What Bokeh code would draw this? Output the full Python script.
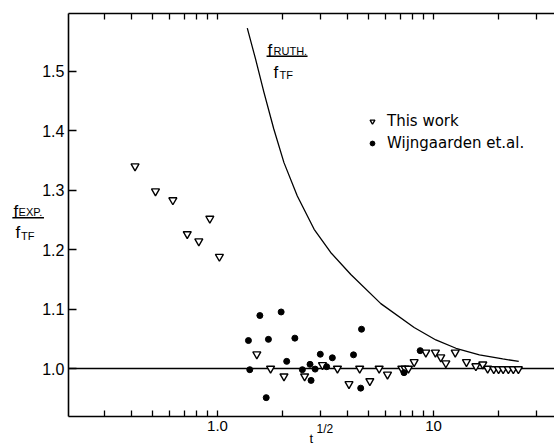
from bokeh.plotting import figure
from bokeh.models import (FixedTicker, Label, Legend, LegendItem, LogAxis, LinearAxis,
                          LogScale, CustomJSTickFormatter, PrintfTickFormatter, Arrow)
from bokeh.embed import file_html
from bokeh.resources import INLINE

# f_EXP / f_TF measured in this work (open triangles)
tw_x = [0.415, 0.516, 0.621, 0.921, 0.724, 0.819, 1.02,
        1.52, 1.76, 2.03, 2.53, 3.06, 3.59, 4.06, 4.55, 5.07, 5.6, 6.12,
        7.13, 7.38, 7.65, 8.13, 9.21, 10.2, 10.8, 11.4, 12.6, 14.2, 15.7, 16.9,
        17.8, 19.0, 20.0, 21.0, 22.2, 23.4, 24.7]
tw_y = [1.340, 1.298, 1.283, 1.252, 1.226, 1.214, 1.188,
        1.024, 1.000, 0.987, 0.987, 1.006, 1.000, 0.974, 1.000, 0.979, 1.000, 0.990,
        1.000, 1.000, 1.000, 1.011, 1.027, 1.027, 1.019, 1.009, 1.027, 1.011, 1.004, 1.007,
        1.000, 0.999, 0.999, 0.999, 0.999, 0.999, 0.999]

# Wijngaarden et al. (filled dots)
wj_x = [1.39, 1.41, 1.57, 1.68, 1.72, 1.97, 2.09, 2.28, 2.47, 2.68,
        2.71, 2.83, 2.99, 3.20, 3.40, 4.26, 4.64, 4.60, 7.30, 8.67]
wj_y = [1.047, 0.998, 1.089, 0.951, 1.049, 1.095, 1.012, 1.051, 0.998, 1.007,
        0.980, 0.999, 1.024, 1.003, 1.018, 1.023, 1.066, 0.967, 0.993, 1.030]

# f_RUTH / f_TF curve
ruth_x = [1.373, 1.50, 1.64, 1.82, 2.03, 2.34, 2.80, 3.34, 4.14, 5.70,
          8.13, 10.25, 12.7, 16.3, 20.9, 24.8]
ruth_y = [1.572, 1.520, 1.464, 1.403, 1.346, 1.290, 1.234, 1.195, 1.158, 1.109,
          1.069, 1.048, 1.034, 1.023, 1.016, 1.012]

x_major = [1, 10]
x_minor = [0.3, 0.4, 0.5, 0.6, 0.7, 0.8, 0.9, 2, 3, 4, 5, 6, 7, 8, 9, 20, 30]
y_ticks = [1.0, 1.1, 1.2, 1.3, 1.4, 1.5]
unity = 1.0

# axis box (data units); the canvas extends a little beyond it for the captions
X_LO, X_HI = 0.204, 36.3
Y_LO, Y_HI = 0.919, 1.597

FONT = "Liberation Sans"

p = figure(width=554, height=445, x_axis_type=None, y_axis_type=None,
           x_range=(0.0989, 36.3), y_range=(0.87059, 1.61849),
           min_border=0, output_backend="svg", toolbar_location=None)
p.x_scale = LogScale()
p.outline_line_color = None
p.background_fill_color = "white"
p.border_fill_color = "white"

ticker = FixedTicker(ticks=x_major, minor_ticks=x_minor)
tick_style = dict(major_tick_in=6, major_tick_out=0, minor_tick_in=6, minor_tick_out=0,
                  axis_line_width=1.6, major_tick_line_width=1.3,
                  minor_tick_line_width=1.3)

bottom = LogAxis(ticker=ticker, fixed_location=Y_LO, bounds=(X_LO, X_HI),
                 formatter=CustomJSTickFormatter(
                     code="return tick == 1 ? '1.0' : tick.toFixed(0);"),
                 major_label_standoff=4, major_label_text_font=FONT,
                 major_label_text_font_size="15px", major_label_text_color="black",
                 **tick_style)
p.add_layout(bottom, "below")

# tick marks along the top edge, no labels shown there
top = LogAxis(ticker=ticker, fixed_location=Y_HI, bounds=(X_LO, X_HI),
              formatter=CustomJSTickFormatter(code="return '';"),
              major_label_text_font_size="1px", major_label_text_alpha=0,
              major_label_standoff=0, **tick_style)
p.add_layout(top, "above")

left = LinearAxis(ticker=FixedTicker(ticks=y_ticks), fixed_location=X_LO,
                  bounds=(Y_LO, Y_HI), formatter=PrintfTickFormatter(format="%.1f"),
                  major_tick_in=8, major_tick_out=0, minor_tick_in=0, minor_tick_out=0,
                  axis_line_width=1.6, major_tick_line_width=1.3,
                  major_label_standoff=4, major_label_text_font=FONT,
                  major_label_text_font_size="16px", major_label_text_color="black")
p.add_layout(left, "left")

# reference level f_EXP = f_TF across the axis box
p.line([X_LO, X_HI], [unity, unity], line_color="black", line_width=1.3)

p.line(ruth_x, ruth_y, line_color="black", line_width=1.3)

r_tw = p.scatter(tw_x, tw_y, marker="inverted_triangle", size=8,
                 line_color="black", line_width=1.4, fill_color="white")
r_wj = p.scatter(wj_x, wj_y, marker="circle", size=6,
                 line_color="black", fill_color="black")

legend = Legend(items=[LegendItem(label="This work", renderers=[r_tw]),
                       LegendItem(label="Wijngaarden et.al.", renderers=[r_wj])],
                location=(366, 293), orientation="vertical",
                glyph_width=12, glyph_height=16, label_height=16, spacing=4,
                label_standoff=9, padding=0, margin=0,
                border_line_color=None, background_fill_alpha=0,
                label_text_font="DejaVu Sans", label_text_font_size="15px",
                label_text_color="black")
p.add_layout(legend, "center")


def txt(x, y, s, size):
    p.add_layout(Label(x=x, y=y, text=s, text_font=FONT, text_font_size=size,
                       text_color="black", text_baseline="alphabetic",
                       text_align="left"))


def bar(x0, x1, y):
    p.add_layout(Arrow(end=None, x_start=x0, y_start=y, x_end=x1, y_end=y,
                       line_color="black", line_width=1.4))


# curve caption f_RUTH. / f_TF
txt(1.704, 1.5345, "f", "17px")
txt(1.817, 1.5328, "RUTH.", "11px")
bar(1.686, 2.61, 1.5249)
txt(1.817, 1.4983, "f", "17px")
txt(1.937, 1.4941, "TF", "11px")

# vertical axis caption f_EXP. / f_TF
txt(0.1137, 1.2639, "f", "17px")
txt(0.1199, 1.2630, "EXP.", "11px")
bar(0.1122, 0.1572, 1.2533)
txt(0.1161, 1.2294, "f", "17px")
txt(0.1231, 1.2235, "TF", "11px")

# horizontal axis caption t^(1/2)
txt(2.666, 0.8824, "t", "13px")
txt(2.873, 0.8975, "1/2", "12px")

open("out.html", "w").write(file_html(p, INLINE))
